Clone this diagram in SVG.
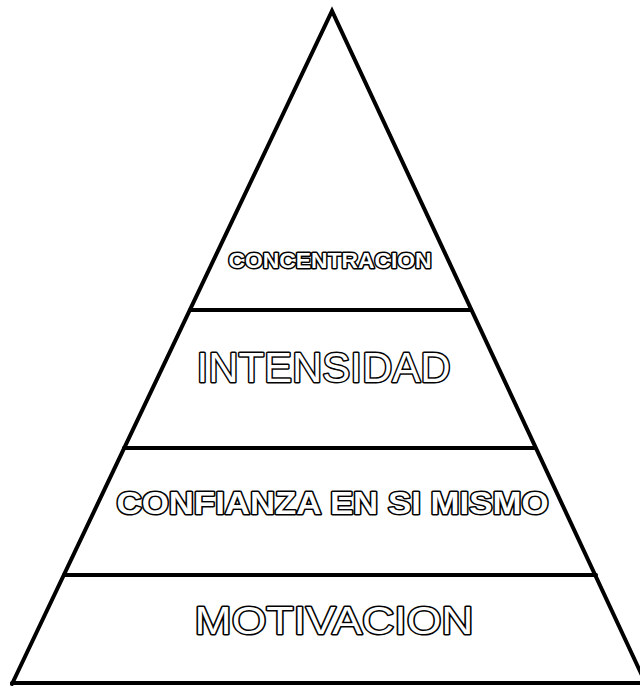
<svg xmlns="http://www.w3.org/2000/svg" width="640" height="686" viewBox="0 0 640 686">
<style>
.edge{stroke:#000;stroke-width:4;fill:none;stroke-linecap:round;stroke-linejoin:miter}
.lbl{font-family:"Liberation Sans",Arial,sans-serif;fill:#fff;stroke:#000;stroke-width:3;paint-order:stroke;text-anchor:middle;stroke-linejoin:round}
</style>
<rect width="640" height="686" fill="#fff"/>
<g id="connectors">
<path class="edge" d="M12,684 L332,11 L646,684"/>
<line class="edge" x1="12" y1="683" x2="640" y2="683"/>
<line class="edge" x1="190" y1="310" x2="471" y2="310"/>
<line class="edge" x1="124" y1="448" x2="535" y2="448"/>
<line class="edge" x1="64" y1="575" x2="596" y2="575"/>
</g>
<g id="concentracion"><text class="lbl" x="330" y="268" font-size="22" font-weight="bold" textLength="203" lengthAdjust="spacingAndGlyphs">CONCENTRACION</text></g>
<g id="intensidad"><text class="lbl" x="323.5" y="382" font-size="42" textLength="254" lengthAdjust="spacingAndGlyphs">INTENSIDAD</text></g>
<g id="confianza"><text class="lbl" x="332.5" y="514" font-size="32" font-weight="bold" textLength="432" lengthAdjust="spacingAndGlyphs">CONFIANZA EN SI MISMO</text></g>
<g id="motivacion"><text class="lbl" x="334" y="634" font-size="39" textLength="279" lengthAdjust="spacingAndGlyphs">MOTIVACION</text></g>
</svg>
